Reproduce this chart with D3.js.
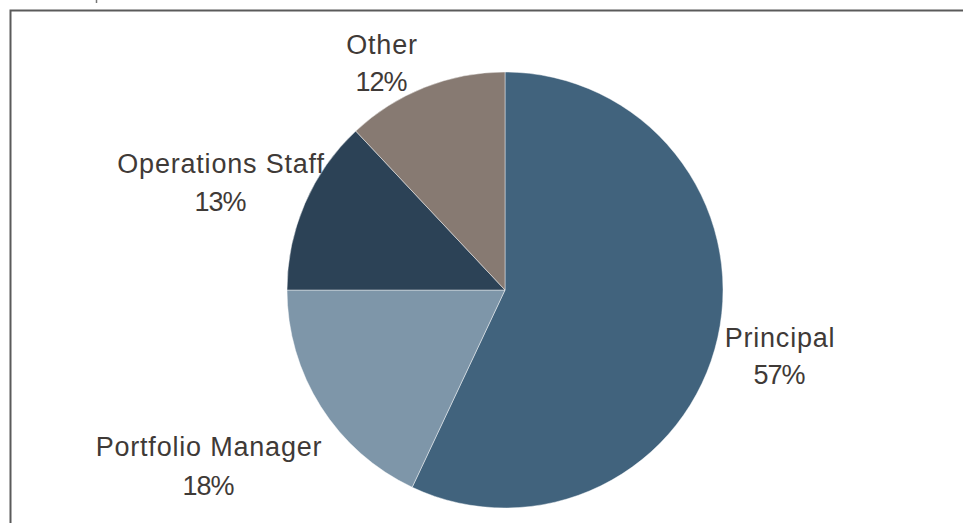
<!DOCTYPE html>
<html>
<head>
<meta charset="utf-8">
<script src="https://cdn.jsdelivr.net/npm/d3@7"></script>
<style>
  html, body { margin: 0; padding: 0; background: #ffffff; }
  svg { display: block; }
</style>
</head>
<body>
<svg id="chart" width="963" height="523"></svg>
<script>
// Share of respondents by role
const categories = ["Principal", "Portfolio Manager", "Operations Staff", "Other"];
const shares = [57, 18, 13, 12];
const sliceColors = ["#41637d", "#7e96a9", "#2c4256", "#877a72"];

const width = 963, height = 523;
const svg = d3.select("#chart");

// Frame around the plot area (continues past the right and bottom edges)
svg.append("rect")
  .attr("x", 10.5).attr("y", 10.5)
  .attr("width", 1000).attr("height", 1000)
  .attr("fill", "none")
  .attr("stroke", "#5a5a5a")
  .attr("stroke-width", 2);

// Small stroke left over from the heading above the frame
svg.append("line")
  .attr("x1", 96.5).attr("x2", 96.5)
  .attr("y1", 0).attr("y2", 3)
  .attr("stroke", "#777")
  .attr("stroke-width", 1.5);

const cx = 505, cy = 290, r = 218;

const data = categories.map((c, i) => ({ name: c, value: shares[i], color: sliceColors[i] }));

const pie = d3.pie().value(d => d.value).sort(null);
const arc = d3.arc().innerRadius(0).outerRadius(r);
const arcs = pie(data);

const g = svg.append("g").attr("transform", `translate(${cx},${cy})`);

// Labels sit outside the pie at fixed offsets per slice
const labelPos = [
  { x: 780, y: 347, dy: 37 },
  { x: 209, y: 456, dy: 39 },
  { x: 221, y: 173, dy: 38 },
  { x: 382, y: 54, dy: 37 }
];

const labels = svg.append("g")
  .attr("font-family", "Liberation Sans, Arial, sans-serif")
  .attr("font-size", 27)
  .attr("fill", "#3f3a37")
  .attr("text-anchor", "middle");

arcs.forEach((a, i) => {
  const p = labelPos[i];
  const t = labels.append("text").attr("x", p.x).attr("y", p.y);
  t.append("tspan").attr("x", p.x)
    .attr("letter-spacing", 0.8).text(a.data.name);
  t.append("tspan").attr("x", p.x - 1).attr("dy", p.dy)
    .attr("letter-spacing", -1).text(a.data.value + "%");
});

g.selectAll("path")
  .data(arcs)
  .join("path")
  .attr("d", arc)
  .attr("fill", d => d.data.color)
  .attr("stroke", "rgba(255,255,255,0.55)")
  .attr("stroke-width", 0.8);
</script>
</body>
</html>
